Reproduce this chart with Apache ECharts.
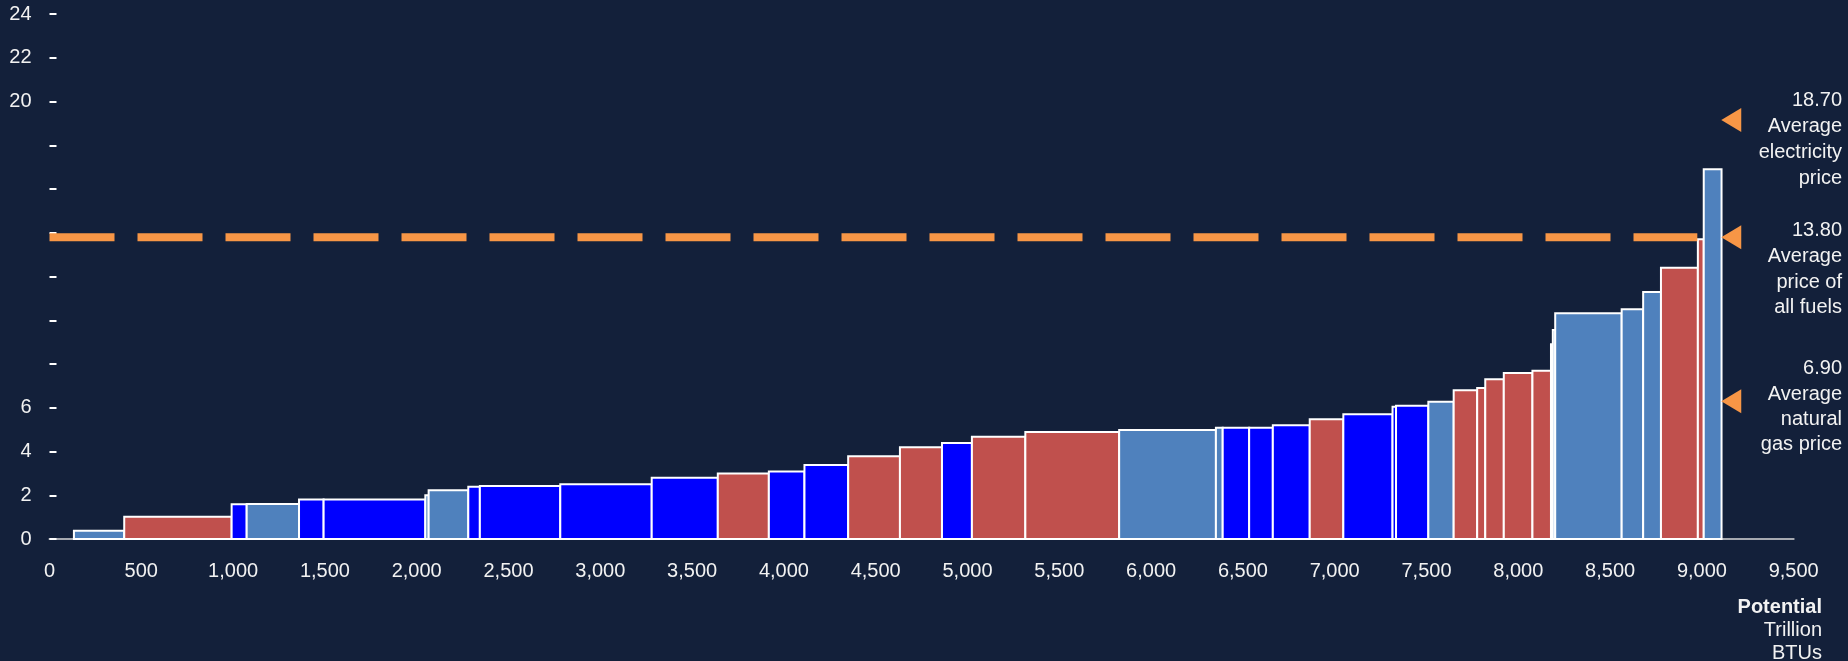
<!DOCTYPE html>
<html>
<head>
<meta charset="utf-8">
<script src="https://cdn.jsdelivr.net/npm/echarts@6/dist/echarts.min.js"></script>
<style>
  html, body { margin: 0; padding: 0; background: #13203a; }
  #chart { width: 1848px; height: 661px; }
</style>
</head>
<body>
<div id="chart"></div>
<script>
// each bar: start / end on the potential axis, price height, colour group
const barStart = [133, 407, 992, 1074, 1359, 1493, 2047, 2065, 2281, 2344, 2782, 3280, 3640, 3918, 4112,
  4350, 4632, 4861, 5024, 5315, 5826, 6353, 6390, 6534, 6663, 6864, 7047, 7315, 7334, 7510,
  7648, 7776, 7820, 7921, 8077, 8178, 8188, 8201, 8563, 8680, 8777, 8978, 9010];
const barEnd = [407, 992, 1074, 1359, 1493, 2047, 2065, 2281, 2344, 2782, 3280, 3640, 3918, 4112, 4350,
  4632, 4861, 5024, 5315, 5826, 6353, 6390, 6534, 6663, 6864, 7047, 7315, 7334, 7510, 7648,
  7776, 7820, 7921, 8077, 8178, 8188, 8201, 8563, 8680, 8777, 8978, 9010, 9107];
const barPrice = [0.38, 1.02, 1.59, 1.60, 1.81, 1.81, 2.0, 2.23, 2.39, 2.42, 2.50, 2.80, 2.99, 3.09, 3.38,
  3.78, 4.19, 4.39, 4.68, 4.89, 4.98, 5.09, 5.09, 5.09, 5.20, 5.47, 5.70, 6.05, 6.09, 6.28,
  6.80, 6.90, 7.30, 7.59, 7.69, 8.9, 9.55, 10.32, 10.50, 11.29, 12.40, 13.70, 16.90];
// 0 = steel blue, 1 = red, 2 = blue
const barGroup = [0, 1, 2, 0, 2, 2, 0, 0, 2, 2, 2, 2, 1, 2, 2,
  1, 1, 2, 1, 1, 0, 0, 2, 2, 2, 1, 2, 2, 2, 0,
  1, 1, 1, 1, 1, 0, 0, 0, 0, 0, 1, 1, 0];

const xTicks = [0, 500, 1000, 1500, 2000, 2500, 3000, 3500, 4000, 4500, 5000, 5500, 6000, 6500, 7000, 7500, 8000, 8500, 9000, 9500];
const yLabelled = [0, 2, 4, 6, 20, 22, 24];

// average fuel price line (dashed) and the arrow markers on the right
const allFuelsAvg = 13.8;
const allFuelsLineEnd = 8975;
const arrowX = 9160;
const arrowAt = [19.15, 13.8, 6.3];
const priceNotes = [
  '18.70\nAverage\nelectricity\nprice',
  '13.80\nAverage\nprice of\nall fuels',
  '6.90\nAverage\nnatural\ngas price'
];

const groupColors = ['#4f81bd', '#c0504d', '#0000ff'];
const textColor = '#f2f2f2';
const fontFam = '"Liberation Sans", Arial, sans-serif';

let bars = barStart.map((s, i) => [s, barEnd[i], barPrice[i], barGroup[i]]);

let chart = echarts.init(document.getElementById('chart'), null, {renderer: 'canvas'});

let option = {
  backgroundColor: '#13203a',
  animation: false,
  textStyle: {fontFamily: fontFam},
  grid: {left: 49.5, right: 54.3, top: 14, bottom: 122},
  xAxis: {
    type: 'value',
    min: 0,
    max: xTicks[xTicks.length - 1],
    interval: 500,
    axisLine: {show: true, lineStyle: {color: '#a6a9b0', width: 2}},
    axisTick: {show: false},
    splitLine: {show: false},
    axisLabel: {
      color: textColor,
      fontSize: 20,
      fontFamily: fontFam,
      margin: 22,
      formatter: v => v.toLocaleString('en-US')
    }
  },
  yAxis: {
    type: 'value',
    min: 0,
    max: 24,
    interval: 2,
    axisLine: {show: false},
    axisTick: {show: true, inside: true, length: 7, lineStyle: {color: '#ffffff', width: 2}},
    splitLine: {show: false},
    axisLabel: {
      color: textColor,
      fontSize: 20,
      fontFamily: fontFam,
      margin: 18,
      formatter: v => (yLabelled.indexOf(v) >= 0 ? String(v) : '')
    }
  },
  series: [
    {
      type: 'custom',
      data: bars,
      encode: {x: [0, 1], y: 2},
      renderItem: function (params, api) {
        let topLeft = api.coord([api.value(0), api.value(2)]);
        let botRight = api.coord([api.value(1), 0]);
        return {
          type: 'rect',
          shape: {
            x: topLeft[0],
            y: topLeft[1],
            width: botRight[0] - topLeft[0],
            height: botRight[1] - topLeft[1]
          },
          style: {fill: groupColors[api.value(3)], stroke: '#ffffff', lineWidth: 2}
        };
      },
      z: 2
    },
    {
      type: 'line',
      data: [[0, allFuelsAvg], [allFuelsLineEnd, allFuelsAvg]],
      showSymbol: false,
      lineStyle: {color: '#f79646', width: 8, type: [65, 23], cap: 'butt'},
      z: 3
    },
    {
      type: 'scatter',
      data: arrowAt.map(v => [arrowX, v]),
      symbol: 'triangle',
      symbolRotate: 90,
      symbolSize: [24, 20],
      itemStyle: {color: '#f79646', opacity: 1},
      z: 4
    }
  ],
  graphic: [
    {
      type: 'text', x: 1842, y: 88,
      style: {text: priceNotes[0], fill: textColor, font: '20px ' + fontFam, lineHeight: 25.8, align: 'right', verticalAlign: 'top'}
    },
    {
      type: 'text', x: 1842, y: 218,
      style: {text: priceNotes[1], fill: textColor, font: '20px ' + fontFam, lineHeight: 25.6, align: 'right', verticalAlign: 'top'}
    },
    {
      type: 'text', x: 1842, y: 356,
      style: {text: priceNotes[2], fill: textColor, font: '20px ' + fontFam, lineHeight: 25.4, align: 'right', verticalAlign: 'top'}
    },
    {
      type: 'text', x: 1822, y: 596,
      style: {text: 'Potential', fill: textColor, font: 'bold 20px ' + fontFam, lineHeight: 23, align: 'right', verticalAlign: 'top'}
    },
    {
      type: 'text', x: 1822, y: 619,
      style: {text: 'Trillion\nBTUs', fill: textColor, font: '20px ' + fontFam, lineHeight: 23, align: 'right', verticalAlign: 'top'}
    }
  ]
};

if (option && typeof option === 'object') {
  chart.setOption(option);
}

window.addEventListener('resize', chart.resize);
</script>
</body>
</html>
